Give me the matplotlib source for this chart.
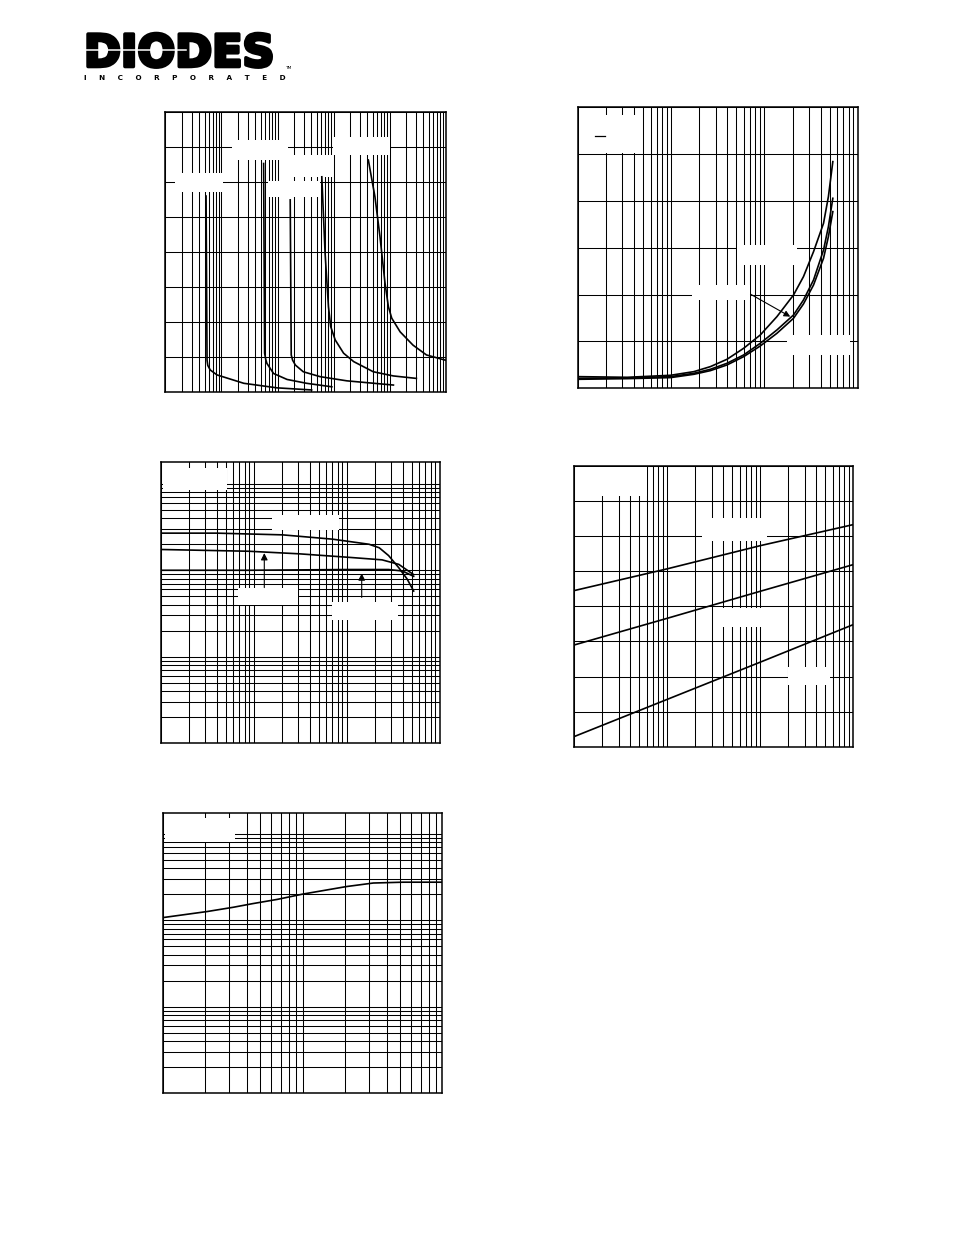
import numpy as np
import matplotlib
matplotlib.use("Agg")
import matplotlib.pyplot as plt
import matplotlib.patheffects as pe
from matplotlib.patches import Rectangle
from matplotlib.lines import Line2D
from matplotlib.ticker import LogLocator, NullFormatter

W, H = 954, 1235

# ---- chart 1 : five curves, log x (5 decades), linear y (8 divisions)
c1_a_x = [5.3, 5.52, 5.69, 6.3, 8.3, 25, 98, 407]
c1_a_y = [5.59, 0.90, 0.75, 0.62, 0.48, 0.24, 0.11, 0.05]
c1_b_x = [56.5, 58.9, 61.7, 64.6, 85.1, 148, 331, 933]
c1_b_y = [6.52, 1.10, 0.92, 0.81, 0.52, 0.35, 0.24, 0.14]
c1_c_x = [168.7, 175.8, 186.2, 208.9, 288.4, 575.4, 1738, 11749]
c1_c_y = [5.48, 1.05, 0.90, 0.76, 0.57, 0.43, 0.31, 0.19]
c1_d_x = [618, 708, 813, 891, 1072, 1514, 2291, 5129, 11749, 30200]
c1_d_y = [6.14, 3.95, 2.43, 1.86, 1.48, 1.10, 0.86, 0.57, 0.45, 0.38]
c1_e_x = [4188, 5495, 6761, 8318, 9550, 10965, 15488, 26303, 45709, 100000]
c1_e_y = [6.62, 5.57, 4.43, 3.10, 2.43, 2.10, 1.71, 1.33, 1.05, 0.90]

# ---- chart 2 : three rising curves, log x (3 decades), linear y (6 divisions)
c2_x = [1, 3.37, 9.82, 17.5, 26.3, 39.6, 59.8, 90.2, 136, 205, 262, 336, 430, 485, 541]
c2_top_y = [0.249, 0.235, 0.278, 0.356, 0.463, 0.619, 0.854, 1.139, 1.530,
            1.993, 2.384, 2.918, 3.523, 4.093, 4.840]
c2_mid_y = [0.214, 0.221, 0.249, 0.320, 0.406, 0.534, 0.712, 0.961, 1.246,
            1.566, 1.886, 2.313, 2.954, 3.452, 4.057]
c2_bot_y = [0.192, 0.206, 0.228, 0.299, 0.377, 0.498, 0.676, 0.904, 1.174,
            1.495, 1.801, 2.206, 2.776, 3.238, 3.772]

# ---- chart 3 : three falling curves, log-log
c3_top_x = [1, 4, 20.4, 70.8, 174, 224, 282, 363, 447, 525]
c3_top_y = [269, 269, 257, 229, 200, 182, 148, 107, 79, 57.5]
c3_mid_x = [1, 8.9, 30.9, 107, 240, 363, 525]
c3_mid_y = [174, 166, 155, 141, 132, 117, 89]
c3_flat_x = [1, 8.9, 107, 282, 398, 525]
c3_flat_y = [100, 100, 102, 102, 98, 85]

# ---- chart 4 : three straight lines, log x, linear y (8 divisions)
c4_x = [1, 10, 100, 1000]
c4_l1 = [4.45, 5.07, 5.73, 6.33]
c4_l2 = [2.90, 3.66, 4.43, 5.19]
c4_l3 = [0.29, 1.35, 2.41, 3.48]

# ---- chart 5 : one curve, log-log
c5_x = [1, 2.09, 3.2, 4.37, 6.61, 10, 20.7, 32.1, 52.5, 100]
c5_y = [107, 126, 141, 155, 174, 200, 245, 269, 275, 275]

fig = plt.figure(figsize=(W / 100, H / 100), dpi=100)


def px_axes(x0, y0, x1, y1):
    return fig.add_axes([x0 / W, 1 - y1 / H, (x1 - x0) / W, (y1 - y0) / H])


def style(ax, logy=False):
    ax.set_xscale("log")
    ax.xaxis.set_major_locator(LogLocator(base=10, numticks=20))
    ax.xaxis.set_minor_locator(LogLocator(base=10, subs=np.arange(2, 10), numticks=100))
    if logy:
        ax.set_yscale("log")
        ax.yaxis.set_major_locator(LogLocator(base=10, numticks=20))
        ax.yaxis.set_minor_locator(LogLocator(base=10, subs=np.arange(2, 10), numticks=100))
    ax.xaxis.set_minor_formatter(NullFormatter())
    ax.yaxis.set_minor_formatter(NullFormatter())
    ax.grid(which="both", color="black", lw=0.75)
    ax.tick_params(which="both", length=0, labelbottom=False, labelleft=False)
    for s in ax.spines.values():
        s.set_linewidth(1.1)


def blank(ax, x0, y0, x1, y1):
    # white patch where the label text used to sit
    ax.add_patch(Rectangle((x0 / W, 1 - y1 / H), (x1 - x0) / W, (y1 - y0) / H,
                           transform=fig.transFigure, facecolor="white",
                           edgecolor="none", zorder=1.8, clip_on=False))


LW = 1.2

# chart 1
ax1 = px_axes(165.5, 111.7, 445.5, 391.7)
style(ax1)
ax1.set_xlim(1, 1e5)
ax1.set_ylim(0, 8)
ax1.set_yticks(np.arange(0, 9))
for xs, ys in [(c1_a_x, c1_a_y), (c1_b_x, c1_b_y), (c1_c_x, c1_c_y),
               (c1_d_x, c1_d_y), (c1_e_x, c1_e_y)]:
    ax1.plot(xs, ys, color="black", lw=LW)
for b in [(175, 173, 223, 192), (232, 140, 288, 160), (290, 155, 333, 177),
          (268, 181, 320, 197), (333, 137, 390, 155)]:
    blank(ax1, *b)

# chart 2
ax2 = px_axes(578, 107.3, 857.7, 388.3)
style(ax2)
ax2.set_xlim(1, 1000)
ax2.set_ylim(0, 6)
ax2.set_yticks(np.arange(0, 7))
for ys in [c2_top_y, c2_mid_y, c2_bot_y]:
    ax2.plot(c2_x, ys, color="black", lw=LW)
for b in [(580, 115, 640, 153), (737, 245, 797, 265), (692, 285, 750, 300),
          (787, 335, 850, 355)]:
    blank(ax2, *b)
fig.add_artist(Line2D([595 / W, 605 / W], [1 - 136 / H, 1 - 136 / H],
                      transform=fig.transFigure, color="black", lw=0.9))
ax2.annotate("", xy=(189, 1.53), xytext=(70.8, 2.01),
             arrowprops=dict(arrowstyle="-|>", color="black", lw=0.8,
                             mutation_scale=9, shrinkA=0, shrinkB=0))

# chart 3
ax3 = px_axes(160.7, 462.3, 439.7, 743)
style(ax3, logy=True)
ax3.set_xlim(1, 1000)
ax3.set_ylim(1, 10 ** 3.25)
ax3.plot(c3_top_x, c3_top_y, color="black", lw=LW)
ax3.plot(c3_mid_x, c3_mid_y, color="black", lw=LW)
ax3.plot(c3_flat_x, c3_flat_y, color="black", lw=LW)
for b in [(163, 468, 227, 490), (272, 515, 339, 530), (238, 588, 298, 605),
          (332, 602, 398, 620)]:
    blank(ax3, *b)
ax3.annotate("", xy=(13, 158), xytext=(13, 63),
             arrowprops=dict(arrowstyle="-|>", color="black", lw=0.8,
                             mutation_scale=10, shrinkA=0, shrinkB=0))
ax3.annotate("", xy=(145, 92), xytext=(145, 48.5),
             arrowprops=dict(arrowstyle="-|>", color="black", lw=0.8,
                             mutation_scale=10, shrinkA=0, shrinkB=0))

# chart 4
ax4 = px_axes(574.3, 466, 853.3, 746.7)
style(ax4)
ax4.set_xlim(1, 1000)
ax4.set_ylim(0, 8)
ax4.set_yticks(np.arange(0, 9))
for ys in [c4_l1, c4_l2, c4_l3]:
    ax4.plot(c4_x, ys, color="black", lw=LW)
for b in [(576, 467, 647, 496), (702, 518, 767, 541), (716, 608, 762, 627),
          (788, 667, 830, 685)]:
    blank(ax4, *b)

# chart 5
ax5 = px_axes(162.7, 813, 442.3, 1093)
style(ax5, logy=True)
ax5.set_xlim(1, 100)
ax5.set_ylim(1, 10 ** 3.24)
ax5.plot(c5_x, c5_y, color="black", lw=LW)
blank(ax5, 165, 818, 235, 842)

# logo
fig.text(84 / W, 1 - 66.5 / H, "DIODES", fontsize=32, fontweight="heavy",
         family="DejaVu Sans", ha="left", va="baseline", color="black",
         path_effects=[pe.withStroke(linewidth=2.6, foreground="black")])
fig.add_artist(Line2D([83 / W, 186 / W], [1 - 49.5 / H, 1 - 49.5 / H],
                      transform=fig.transFigure, color="white", lw=1.1, zorder=5))
fig.text(84 / W, 1 - 79.5 / H, "I     N     C     O     R     P     O     R     A     T     E     D",
         fontsize=5.2, fontweight="bold", family="DejaVu Sans",
         ha="left", va="baseline")
fig.text(285 / W, 1 - 69 / H, "TM", fontsize=3.2, family="DejaVu Sans",
         ha="left", va="baseline")

fig.savefig("out.png", dpi=100)
